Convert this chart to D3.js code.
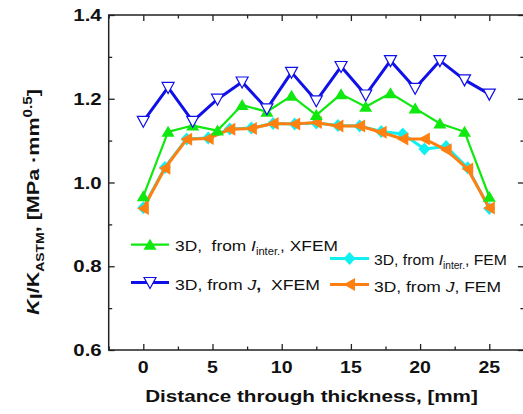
<!DOCTYPE html>
<html><head><meta charset="utf-8">
<script src="https://cdn.jsdelivr.net/npm/d3@7"></script>
<style>
html,body{margin:0;padding:0;background:#fff;overflow:hidden;}
text{font-family:"Liberation Sans",Arial,sans-serif;}
</style></head>
<body>
<svg id="chart" width="523" height="414"></svg>
<script>
// ---- data ----
const xXfem = [0, 1.79, 3.57, 5.36, 7.14, 8.93, 10.71, 12.5, 14.29, 16.07, 17.86, 19.64, 21.43, 23.21, 25];
const xFem = [0, 1.56, 3.13, 4.69, 6.25, 7.81, 9.38, 10.94, 12.5, 14.06, 15.63, 17.19, 18.75, 20.31, 21.88, 23.44, 25];
const jXfem = [1.146, 1.227, 1.146, 1.199, 1.240, 1.176, 1.263, 1.195, 1.277, 1.209, 1.291, 1.225, 1.291, 1.245, 1.211];
const iXfem = [0.967, 1.121, 1.136, 1.124, 1.185, 1.169, 1.207, 1.161, 1.211, 1.181, 1.213, 1.177, 1.141, 1.121, 0.966];
const jFem = [0.938, 1.034, 1.103, 1.105, 1.127, 1.129, 1.141, 1.140, 1.143, 1.135, 1.135, 1.120, 1.104, 1.104, 1.078, 1.032, 0.939];
const iFem = [0.940, 1.036, 1.104, 1.106, 1.128, 1.130, 1.141, 1.140, 1.142, 1.136, 1.135, 1.122, 1.116, 1.080, 1.086, 1.035, 0.938];
const xTicks = [0, 5, 10, 15, 20, 25];
const xMinor = [-2.5, 2.5, 7.5, 12.5, 17.5, 22.5, 27.5];
const yTicks = [0.6, 0.8, 1.0, 1.2, 1.4];
const yMinor = [0.7, 0.9, 1.1, 1.3];

const svg = d3.select("#chart");
const L = 108.7, R = 523.9, T = 15, B = 350;
const x = d3.scaleLinear().domain([-2.5, 27.5]).range([L, R]);
const y = d3.scaleLinear().domain([0.6, 1.4]).range([B, T]);

// ---- axes (inward ticks) ----
const axCol = "#222";
function styleAxis(g){
  g.select(".domain").remove();
  g.selectAll("line").attr("stroke", axCol).attr("stroke-width", 1.3);
}
svg.append("g").attr("transform", `translate(0,${B})`)
  .call(d3.axisBottom(x).tickValues(xTicks).tickSize(-6).tickFormat(""))
  .call(styleAxis);
svg.append("g").attr("transform", `translate(0,${B})`)
  .call(d3.axisBottom(x).tickValues(xMinor).tickSize(-3.5).tickFormat(""))
  .call(styleAxis);
svg.append("g").attr("transform", `translate(0,${T})`)
  .call(d3.axisTop(x).tickValues(xTicks).tickSize(-6).tickFormat(""))
  .call(styleAxis);
svg.append("g").attr("transform", `translate(0,${T})`)
  .call(d3.axisTop(x).tickValues(xMinor).tickSize(-3.5).tickFormat(""))
  .call(styleAxis);
svg.append("g").attr("transform", `translate(${L},0)`)
  .call(d3.axisLeft(y).tickValues(yTicks).tickSize(-6).tickFormat(""))
  .call(styleAxis);
svg.append("g").attr("transform", `translate(${L},0)`)
  .call(d3.axisLeft(y).tickValues(yMinor).tickSize(-3.5).tickFormat(""))
  .call(styleAxis);
svg.append("g").attr("transform", `translate(${R},0)`)
  .call(d3.axisRight(y).tickValues(yTicks).tickSize(-6).tickFormat(""))
  .call(styleAxis);
svg.append("g").attr("transform", `translate(${R},0)`)
  .call(d3.axisRight(y).tickValues(yMinor).tickSize(-3.5).tickFormat(""))
  .call(styleAxis);
svg.append("rect").attr("x", L).attr("y", T).attr("width", R - L).attr("height", B - T)
  .attr("fill", "none").attr("stroke", axCol).attr("stroke-width", 1.5);

// helper: horizontally stretched text
function stretched(parent, tx, ty, sx, anchor){
  const g = parent.append("g").attr("transform", `translate(${tx},${ty}) scale(${sx},1)`);
  return g.append("text").attr("text-anchor", anchor || "start");
}
function fitTo(textSel, tx, ty, target, anchor, rot){
  const g = textSel.node().parentNode;
  const w = textSel.node().getBBox().width;
  const s = target / w;
  d3.select(g).attr("transform", `translate(${tx},${ty})${rot ? " rotate(" + rot + ")" : ""} scale(${s},1)`);
}

// tick labels
xTicks.forEach(v => {
  stretched(svg, x(v), 373.3, 1.15, "middle").attr("font-size", 17).attr("font-weight", "bold")
    .attr("fill", "#111").text(String(v));
});
yTicks.forEach(v => {
  stretched(svg, 101.7, y(v) + 6, 1.2, "end").attr("font-size", 17).attr("font-weight", "bold")
    .attr("fill", "#111").text(d3.format(".1f")(v));
});

// x title
{
  const t = stretched(svg, 0, 0, 1, "middle").attr("font-size", 17).attr("font-weight", "bold").attr("fill", "#111")
    .text("Distance through thickness, [mm]");
  fitTo(t, 311.5, 401.7, 333, "middle");
}
// y title
{
  const t = stretched(svg, 0, 0, 1, "middle").attr("font-size", 17).attr("font-weight", "bold").attr("fill", "#111");
  t.append("tspan").attr("font-style", "italic").text("K");
  t.append("tspan").attr("dy", 3).text("I");
  t.append("tspan").attr("dy", -3).text("/K");
  t.append("tspan").attr("dy", 5).attr("font-size", 11).text("ASTM");
  t.append("tspan").attr("dy", -5).text(", [MPa ·mm");
  t.append("tspan").attr("dy", -7).attr("font-size", 12).text("0.5");
  t.append("tspan").attr("dy", 7).text("]");
  fitTo(t, 39, 202, 226, "middle", -90);
}

// ---- markers ----
const shapes = {
  down: "M-6,-5L6,-5L0,6Z",
  up: "M0,-6L6.5,5L-6.5,5Z",
  left: "M-6,0L5.5,-6.5L5.5,6.5Z",
  diamond: "M0,-6.5L6,0L0,6.5L-6,0Z"
};

const series = [
  {xs: xFem, ys: iFem, color: "#10f0f0", lw: 3, shape: "diamond", fill: "#10f0f0", stroke: "none"},
  {xs: xFem, ys: jFem, color: "#ff8010", lw: 3, shape: "left", fill: "#ff8010", stroke: "none"},
  {xs: xXfem, ys: iXfem, color: "#10e810", lw: 2.2, shape: "up", fill: "#10e810", stroke: "none"},
  {xs: xXfem, ys: jXfem, color: "#1010e8", lw: 3, shape: "down", fill: "#fff", stroke: "#1010e8"}
];
const line = d3.line().x(d => x(d[0])).y(d => y(d[1]));
series.forEach(s => {
  const pts = s.xs.map((v, i) => [v, s.ys[i]]);
  svg.append("path").datum(pts).attr("d", line).attr("fill", "none")
    .attr("stroke", s.color).attr("stroke-width", s.lw).attr("stroke-linejoin", "round");
  svg.append("g").selectAll("path").data(pts).join("path")
    .attr("transform", d => `translate(${x(d[0])},${y(d[1])})`)
    .attr("d", shapes[s.shape]).attr("fill", s.fill)
    .attr("stroke", s.stroke).attr("stroke-width", 1.2);
});

// ---- legend ----
function legendItem(x0, x1, ly, s){
  svg.append("line").attr("x1", x0).attr("x2", x1).attr("y1", ly).attr("y2", ly)
    .attr("stroke", s.color).attr("stroke-width", s.lw);
  svg.append("path").attr("transform", `translate(${(x0 + x1) / 2},${ly})`)
    .attr("d", shapes[s.shape]).attr("fill", s.fill).attr("stroke", s.stroke).attr("stroke-width", 1.2);
}
legendItem(131, 169, 244.7, series[2]);
legendItem(131, 169, 282.5, series[3]);
legendItem(330, 369, 258.5, series[0]);
legendItem(330, 369, 284.5, series[1]);

function legText(tx, ty, target, build){
  const t = stretched(svg, 0, 0, 1, "start").attr("font-size", 15.5).attr("fill", "#111");
  build(t);
  fitTo(t, tx, ty, target, "start");
}
legText(175, 250.7, 163, t => {
  t.append("tspan").text("3D,\u00a0 from ");
  t.append("tspan").attr("font-style", "italic").text("I");
  t.append("tspan").attr("dy", 4).attr("font-size", 10).text("inter.");
  t.append("tspan").attr("dy", -4).text(", XFEM");
});
legText(175, 290, 145, t => {
  t.append("tspan").text("3D, from ");
  t.append("tspan").attr("font-style", "italic").text("J");
  t.append("tspan").attr("font-weight", "bold").text(",");
  t.append("tspan").text("\u00a0 XFEM");
});
legText(374, 265, 133, t => {
  t.append("tspan").text("3D, from ");
  t.append("tspan").attr("font-style", "italic").text("I");
  t.append("tspan").attr("dy", 4).attr("font-size", 10).text("inter.");
  t.append("tspan").attr("dy", -4).text(", FEM");
});
legText(374, 291.7, 127, t => {
  t.append("tspan").text("3D, from ");
  t.append("tspan").attr("font-style", "italic").text("J");
  t.append("tspan").text(", FEM");
});
</script>
</body></html>
